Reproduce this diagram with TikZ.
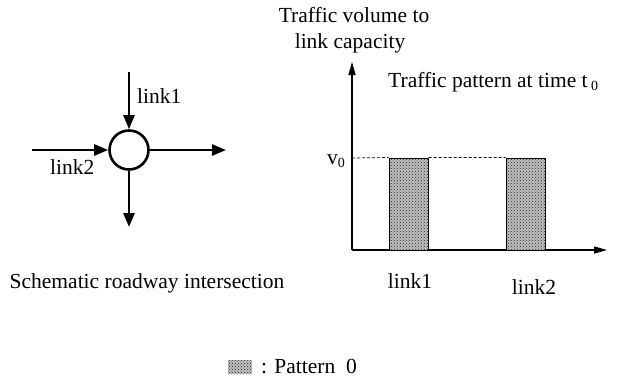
\documentclass[tikz,border=0pt]{standalone}
\usepackage{fontspec}
\setmainfont{Liberation Serif}
\usetikzlibrary{arrows.meta,patterns}
\begin{document}
\begin{tikzpicture}[x=1pt,y=-1pt,
  flow/.style={line width=2.6pt,-{Triangle[length=14pt,width=11pt]}},
  axis/.style={line width=1.4pt,-{Triangle[length=13pt,width=7pt]}},
  lbl/.style={font=\fontsize{21.5}{24}\selectfont,inner sep=0pt},
  bar/.style={draw=black,line width=1pt,fill=gray!50,postaction={pattern=crosshatch dots,pattern color=black!85}}]
\useasboundingbox (0,0) rectangle (620,380);
% intersection
\node[circle,draw,line width=2.6pt,minimum size=39pt,inner sep=0pt] (jn) at (129,150) {};
\coordinate (n1) at (129,72);
\coordinate (w2) at (32,150);
\coordinate (eo) at (226,150);
\coordinate (so) at (129,227);
\draw[flow] (n1) -- (jn.north);
\draw[flow] (w2) -- (jn.west);
\draw[flow] (jn.east) -- (eo);
\draw[flow] (jn.south) -- (so);
\node[lbl,anchor=base west] (l1) at (137,103) {link1};
\node[lbl,anchor=base west] (l2) at (50,174) {link2};
\node[lbl,anchor=base] (cap1) at (147,288) {Schematic roadway intersection};
% chart
\coordinate (o) at (352,250);
\coordinate (ytop) at (352,62);
\coordinate (xend) at (607,250);
\draw[axis] (o) -- (ytop);
\draw[axis] (o) -- (xend);
\node[lbl,anchor=base] (t1) at (354,22) {Traffic volume to};
\node[lbl,anchor=base] (t2) at (350,48) {link capacity};
\node[lbl,anchor=base west] (t3) at (388,87) {Traffic pattern at time t\,\raisebox{-3pt}{\fontsize{14}{14}\selectfont 0}};
\node[lbl,anchor=base] (v0) at (336,164) {v\raisebox{-3pt}{\fontsize{14}{14}\selectfont 0}};
\node[bar,minimum width=39pt,minimum height=92pt,inner sep=0pt] (b1) at (408.5,204) {};
\node[bar,minimum width=39pt,minimum height=92pt,inner sep=0pt] (b2) at (525.5,204) {};
\draw[densely dashed,line width=0.7pt] (352,158) -- (b1.north west) (b1.north east) -- (b2.north west);
\node[lbl,anchor=base] (bl1) at (410,288) {link1};
\node[lbl,anchor=base] (bl2) at (534,294) {link2};
% legend
\node[bar,draw=none,minimum width=24pt,minimum height=14pt,inner sep=0pt] (sw) at (240,367) {};
\node[lbl,anchor=base west] (lg) at (261,373) {: Pattern\ \ 0};
\end{tikzpicture}
\end{document}
